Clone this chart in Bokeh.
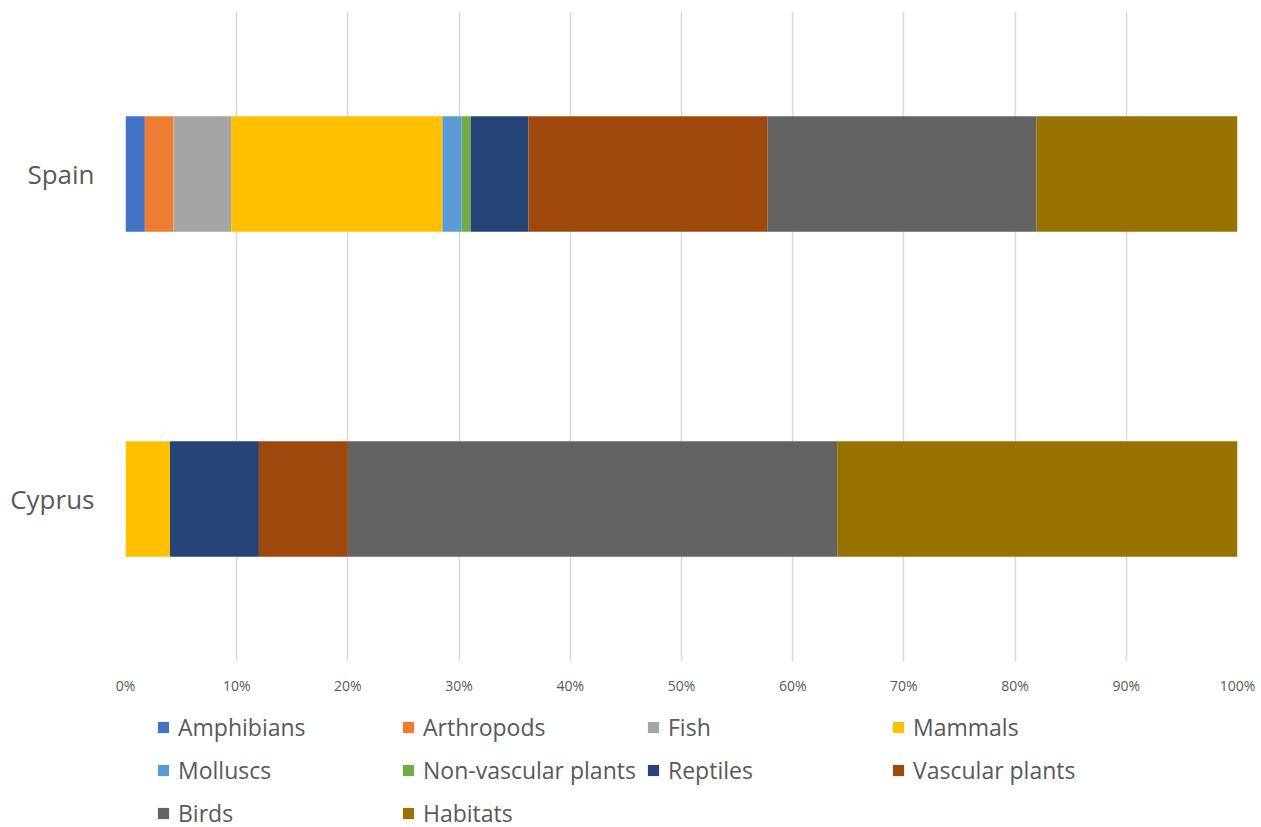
from bokeh.plotting import figure
from bokeh.layouts import column
from bokeh.models import FactorRange, Range1d, FixedTicker, PrintfTickFormatter, Legend, LegendItem
from bokeh.embed import file_html
from bokeh.resources import INLINE

countries = ["Cyprus", "Spain"]
groups = ["Amphibians", "Arthropods", "Fish", "Mammals", "Molluscs",
          "Non-vascular plants", "Reptiles", "Vascular plants", "Birds", "Habitats"]
spain = [1.74, 2.58, 5.18, 19.0, 1.73, 0.81, 5.21, 21.5, 24.18, 18.07]
cyprus = [0, 0, 0, 4.0, 0, 0, 8.0, 8.0, 44.0, 36.0]
colors = ["#4472C4", "#ED7D31", "#A5A5A5", "#FFC000", "#5B9BD5",
          "#70AD47", "#264478", "#9E480E", "#636363", "#997300"]
ticks = [0, 10, 20, 30, 40, 50, 60, 70, 80, 90, 100]

data = {"country": countries}
for g, s, c in zip(groups, spain, cyprus):
    data[g] = [c, s]

p = figure(width=1261, height=700, output_backend="svg", toolbar_location=None,
           y_range=FactorRange(factors=countries, range_padding=0),
           x_range=Range1d(0, 100),
           min_border_left=125, min_border_right=24, min_border_top=11, min_border_bottom=39)
p.outline_line_color = None

rs = p.hbar_stack(groups, y="country", height=0.355, color=colors, source=data, line_color=None)

p.xaxis.ticker = FixedTicker(ticks=ticks)
p.xaxis.formatter = PrintfTickFormatter(format="%d%%")
p.xaxis.axis_line_color = None
p.xaxis.major_tick_line_color = None
p.xaxis.minor_tick_line_color = None
p.xaxis.major_label_text_font = "Open Sans"
p.xaxis.major_label_text_font_size = "14px"
p.xaxis.major_label_text_color = "#595959"
p.xaxis.major_label_standoff = 8

p.yaxis.axis_line_color = None
p.yaxis.major_tick_line_color = None
p.yaxis.minor_tick_line_color = None
p.yaxis.major_label_text_font = "Open Sans"
p.yaxis.major_label_text_font_size = "26px"
p.yaxis.major_label_text_color = "#595959"
p.yaxis.major_label_standoff = 25

p.xgrid.grid_line_color = "#d9d9d9"
p.xgrid.grid_line_width = 1.5
p.ygrid.grid_line_color = None

# legend panel: same stacked bars, whose categories lie outside this panel's range
lg = figure(width=1261, height=127, output_backend="svg", toolbar_location=None,
            x_axis_type=None, y_axis_type=None,
            x_range=Range1d(0, 100), y_range=FactorRange(factors=["legend"]),
            min_border_left=0, min_border_right=0, min_border_top=0, min_border_bottom=0)
lg.outline_line_color = None
lg.xgrid.visible = False
lg.ygrid.visible = False
lrs = lg.hbar_stack(groups, y="country", height=0.355, color=colors, source=data, line_color=None)
items = [LegendItem(label=g, renderers=[r]) for g, r in zip(groups, lrs)]
legend = Legend(items=items, ncols=4, orientation="horizontal",
                label_text_font="Open Sans", label_text_font_size="23px",
                label_text_color="#595959", glyph_width=14, glyph_height=14,
                label_standoff=8, spacing=6, border_line_color=None,
                background_fill_alpha=0,
                padding=0, margin=0, location=(31, -4), label_height=37,
                label_width=217, label_text_line_height=1.0)
lg.add_layout(legend, "center")

layout = column(p, lg, spacing=0)
open("out.html", "w").write(file_html(layout, INLINE))
